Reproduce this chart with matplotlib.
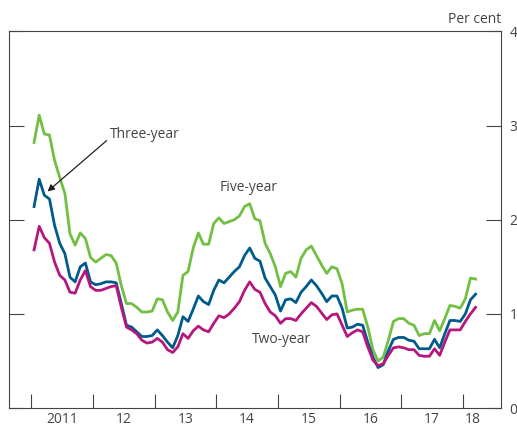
import matplotlib
matplotlib.use("Agg")
import matplotlib.pyplot as plt
import numpy as np

plt.rcParams["font.family"] = ["Open Sans", "DejaVu Sans"]

# ---- data: monthly yields, Jan 2011 - Mar 2018 (per cent) ----
start_year = 2011
five_year = [2.82, 3.11, 2.91, 2.90, 2.63, 2.45, 2.28, 1.85, 1.73, 1.86, 1.80, 1.60,
             1.55, 1.59, 1.63, 1.62, 1.54, 1.30, 1.11, 1.11, 1.07, 1.02, 1.02, 1.03,
             1.16, 1.15, 1.02, 0.93, 1.02, 1.41, 1.45, 1.70, 1.86, 1.74, 1.74, 1.96,
             2.02, 1.96, 1.98, 2.00, 2.04, 2.14, 2.17, 2.01, 1.99, 1.75, 1.64, 1.50,
             1.29, 1.43, 1.45, 1.39, 1.59, 1.68, 1.72, 1.62, 1.52, 1.43, 1.50, 1.48,
             1.32, 1.02, 1.04, 1.05, 1.05, 0.86, 0.62, 0.50, 0.54, 0.72, 0.92, 0.95,
             0.95, 0.90, 0.88, 0.77, 0.79, 0.79, 0.93, 0.82, 0.95, 1.09, 1.08, 1.06,
             1.16, 1.38, 1.37]
three_year = [2.14, 2.43, 2.26, 2.22, 1.94, 1.75, 1.64, 1.39, 1.34, 1.50, 1.54, 1.34,
              1.31, 1.32, 1.34, 1.34, 1.33, 1.11, 0.88, 0.86, 0.81, 0.76, 0.76, 0.77,
              0.83, 0.77, 0.70, 0.64, 0.77, 0.97, 0.92, 1.05, 1.19, 1.13, 1.10, 1.25,
              1.36, 1.33, 1.39, 1.45, 1.50, 1.62, 1.70, 1.59, 1.56, 1.38, 1.29, 1.20,
              1.03, 1.15, 1.16, 1.12, 1.23, 1.29, 1.36, 1.30, 1.22, 1.13, 1.19, 1.19,
              1.06, 0.85, 0.86, 0.89, 0.88, 0.70, 0.54, 0.43, 0.46, 0.61, 0.73, 0.75,
              0.75, 0.72, 0.71, 0.63, 0.63, 0.63, 0.73, 0.64, 0.79, 0.93, 0.93, 0.92,
              1.00, 1.15, 1.21]
two_year = [1.68, 1.93, 1.81, 1.75, 1.55, 1.41, 1.36, 1.23, 1.22, 1.36, 1.46, 1.29,
            1.25, 1.25, 1.27, 1.29, 1.30, 1.07, 0.86, 0.83, 0.79, 0.72, 0.69, 0.70,
            0.74, 0.70, 0.62, 0.59, 0.65, 0.79, 0.74, 0.82, 0.87, 0.83, 0.81, 0.90,
            0.98, 0.96, 1.00, 1.06, 1.13, 1.25, 1.34, 1.26, 1.23, 1.11, 1.02, 0.98,
            0.90, 0.95, 0.95, 0.93, 1.00, 1.06, 1.12, 1.08, 1.01, 0.94, 0.99, 1.00,
            0.88, 0.76, 0.80, 0.83, 0.81, 0.65, 0.51, 0.45, 0.47, 0.56, 0.64, 0.65,
            0.64, 0.62, 0.62, 0.56, 0.55, 0.55, 0.63, 0.56, 0.70, 0.83, 0.83, 0.83,
            0.92, 1.00, 1.07]
year_labels = ["2011", "12", "13", "14", "15", "16", "17", "18"]

months = np.arange(len(five_year))
x = start_year + (months + 0.5) / 12.0

GREEN = "#72bf44"
BLUE = "#005a8c"
MAGENTA = "#b5177f"
GREY = "#444444"

fig = plt.figure(figsize=(5.17, 4.30), dpi=100)
ax = fig.add_axes([0.018, 0.051, 0.951, 0.876])

ax.plot(x, five_year, color=GREEN, lw=2.0)
ax.plot(x, three_year, color=BLUE, lw=2.0)
ax.plot(x, two_year, color=MAGENTA, lw=2.0)

ax.set_xlim(2010.64, 2018.62)
ax.set_ylim(0, 4)

# x axis: ticks at year boundaries, labels centred on the years
years = np.arange(2011, 2019)
ax.set_xticks(years)
ax.set_xticklabels([])
label_pos = list(years[:-1] + 0.5) + [2018.17]
ax.set_xticks(label_pos, minor=True)
ax.set_xticklabels(year_labels, minor=True)
ax.tick_params(axis="x", which="major", direction="in", length=10, width=0.8, color=GREY)
ax.tick_params(axis="x", which="minor", length=0, pad=3, labelsize=10, labelcolor=GREY)

# y axis: labels on the right, ticks inside both spines
ax.set_yticks([0, 1, 2, 3, 4])
ax.tick_params(axis="y", direction="in", length=11, width=0.8, color=GREY,
               left=True, right=True, labelleft=False, labelright=True,
               labelsize=10, labelcolor=GREY, pad=6)
for s in ax.spines.values():
    s.set_color(GREY)
    s.set_linewidth(0.8)

ax.text(1.0, 1.012, "Per cent", transform=ax.transAxes, ha="right", va="bottom",
        fontsize=10, color=GREY)

# series labels
ax.text(2012.27, 2.90, "Three-year", fontsize=10, color=GREY, ha="left", va="center")
ax.annotate("", xy=(2011.26, 2.30), xytext=(2012.22, 2.84),
            arrowprops=dict(arrowstyle="-|>", color="#222222", lw=0.9,
                            shrinkA=0, shrinkB=0, mutation_scale=10))
ax.text(2014.52, 2.34, "Five-year", fontsize=10, color=GREY, ha="center", va="center")
ax.text(2015.06, 0.73, "Two-year", fontsize=10, color=GREY, ha="center", va="center")

fig.savefig("out.png", dpi=100)
